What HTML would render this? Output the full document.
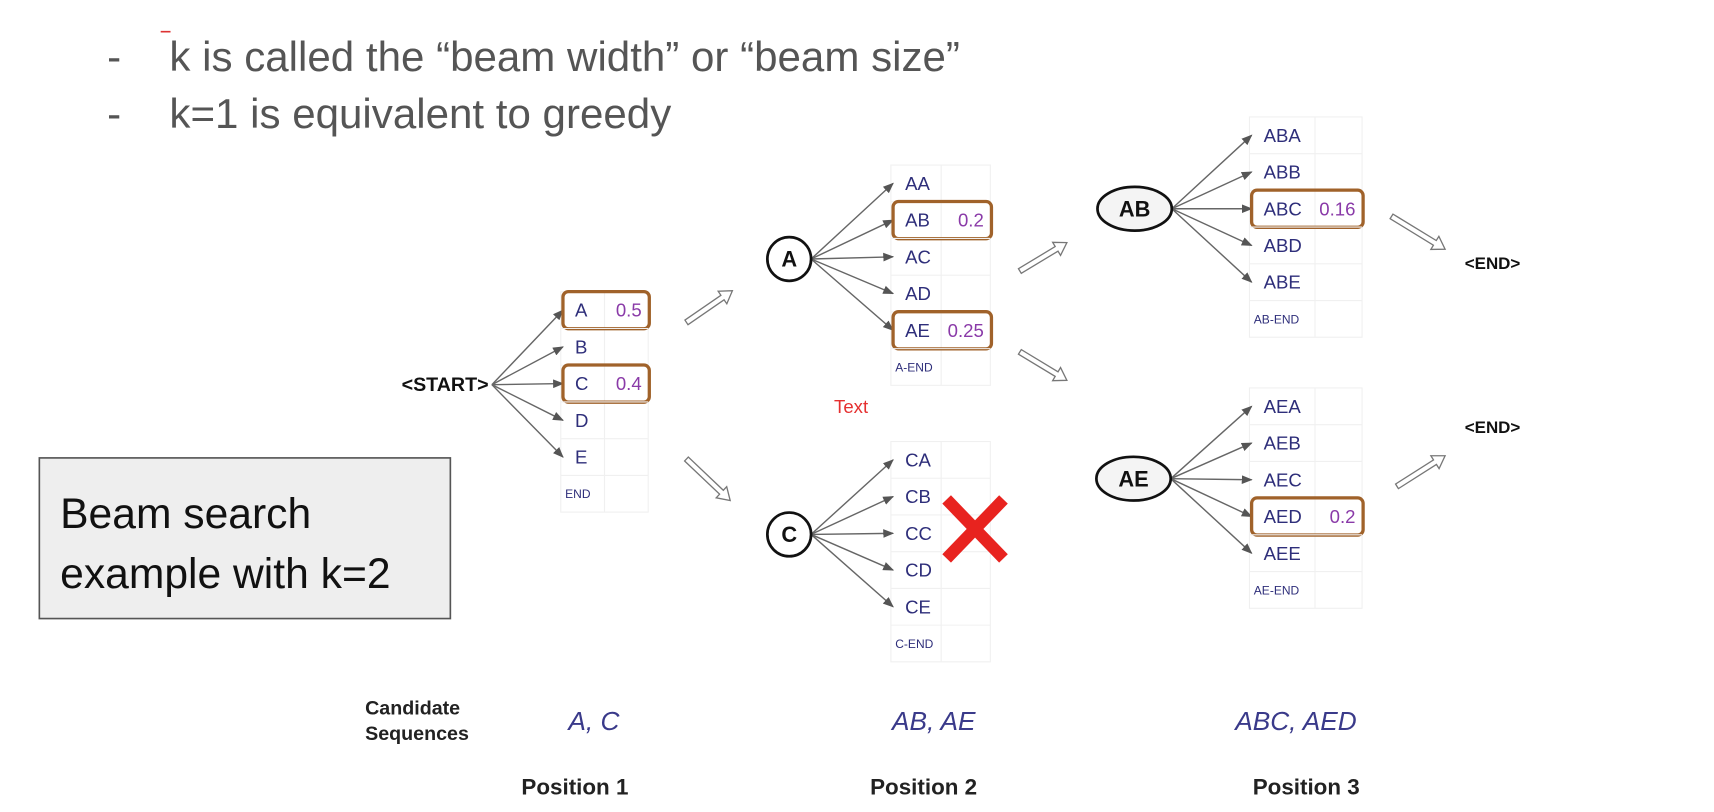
<!DOCTYPE html>
<html><head><meta charset="utf-8"><style>
html,body{margin:0;padding:0;background:#fff;width:1714px;height:812px;overflow:hidden}
svg{display:block;font-family:"Liberation Sans",Arial,sans-serif}
</style></head><body>
<svg id="s" width="1714" height="812" viewBox="0 0 1568 743" preserveAspectRatio="none">
<defs>
<marker id="ah" markerWidth="10" markerHeight="8" refX="9" refY="4" orient="auto" markerUnits="userSpaceOnUse"><path d="M0,0 L10,4 L0,8 z" fill="#555"/></marker>
</defs>
<g fill="#555" font-size="38.5">
<line x1="147" y1="29" x2="156" y2="29" stroke="#d33" stroke-width="1.5"/>
<text x="98" y="65">-</text>
<text x="155" y="65">k is called the “beam width” or “beam size”</text>
<text x="98" y="117">-</text>
<text x="155" y="117">k=1 is equivalent to greedy</text>
</g>
<g>
<rect x="36" y="419" width="376" height="147" fill="#eeeeee" stroke="#555" stroke-width="1.5"/>
<text x="55" y="483" font-size="39" fill="#111">Beam search</text>
<text x="55" y="538" font-size="39" fill="#111">example with k=2</text>
</g>
<g id="g"></g>
<text x="763" y="378" font-size="17" fill="#e53030">Text</text>
<g stroke="#e8231f" stroke-width="11" stroke-linecap="butt">
<line x1="866" y1="457" x2="918" y2="511"/><line x1="918" y1="457" x2="866" y2="511"/>
</g>
<g font-weight="bold" font-size="18" fill="#222">
<text x="334" y="654">Candidate</text><text x="334" y="677">Sequences</text>
<text x="477" y="727" font-size="20.5">Position 1</text>
<text x="796" y="727" font-size="20.5">Position 2</text>
<text x="1146" y="727" font-size="20.5">Position 3</text>
</g>
<g font-style="italic" font-size="24" fill="#3a3a8a">
<text x="520" y="668">A, C</text>
<text x="816" y="668">AB, AE</text>
<text x="1130" y="668">ABC, AED</text>
</g>
</svg>
<script>
var ns="http://www.w3.org/2000/svg",G=document.getElementById('g');
function el(t,a,p){var e=document.createElementNS(ns,t);for(var k in a)e.setAttribute(k,a[k]);(p||G).appendChild(e);return e;}
var tables=[
 {name:'pos1',src:'<START>',sx:450,sy:352,x:513,top:267,rows:['A','B','C','D','E','END'],vals:{0:'0.5',2:'0.4'},w:80,cw:40},
 {name:'pos2-a',src:'A',shape:'c',sx:722,sy:237,x:815,top:151,rows:['AA','AB','AC','AD','AE','A-END'],vals:{1:'0.2',4:'0.25'},w:91,cw:46},
 {name:'pos2-c',src:'C',shape:'c',sx:722,sy:489,x:815,top:404,rows:['CA','CB','CC','CD','CE','C-END'],vals:{},w:91,cw:46},
 {name:'pos3-ab',src:'AB',shape:'e',sx:1038,sy:191,x:1143,top:107,rows:['ABA','ABB','ABC','ABD','ABE','AB-END'],vals:{2:'0.16'},w:103,cw:60},
 {name:'pos3-ae',src:'AE',shape:'e',sx:1037,sy:438,x:1143,top:355,rows:['AEA','AEB','AEC','AED','AEE','AE-END'],vals:{3:'0.2'},w:103,cw:60}
];
var rh=33.6;
tables.forEach(function(t){
 var g=el('g',{});
 
 
 var h=rh*6;
 el('rect',{x:t.x,y:t.top,width:t.w,height:h,fill:'none',stroke:'#f0f0f0'},g);
 el('line',{x1:t.x+t.cw,y1:t.top,x2:t.x+t.cw,y2:t.top+h,stroke:'#f0f0f0'},g);
 t.rows.forEach(function(r,i){
  var cy=t.top+rh*i+rh/2;
  if(i>0)el('line',{x1:t.x,y1:t.top+rh*i,x2:t.x+t.w,y2:t.top+rh*i,stroke:'#f0f0f0'},g);
  var last=i==5;
  var tx=el('text',{x:t.x+(last?4:13),y:cy+(last?4:6),'font-size':last?11:17,fill:'#2e2e7a'},g);tx.textContent=r;
  
  
  if(!last){
   el('line',{x1:t.sx+(t.shape=='e'?34:t.shape=='c'?20:0),y1:t.sy,x2:t.x+2,y2:cy,stroke:'#666','stroke-width':1.3,'marker-end':'url(#ah)'},g);
  }
  if(t.vals[i]){
   el('rect',{x:t.x+2,y:cy-17,width:t.w-1,height:34,rx:5,fill:'none',stroke:'#a0622a','stroke-width':3},g);
   var v=el('text',{x:t.x+t.w-6,y:cy+6,'font-size':17,fill:'#8a3aa8','text-anchor':'end'},g);v.textContent=t.vals[i];
   
   
  }
 });
 var n;
 if(t.shape=='c'){el('circle',{cx:t.sx,cy:t.sy,r:20,fill:'#fff',stroke:'#111','stroke-width':2.5},g);}
 else if(t.shape=='e'){el('ellipse',{cx:t.sx,cy:t.sy,rx:34,ry:20,fill:'#f4f4f4',stroke:'#111','stroke-width':2.5},g);}
 if(t.shape){n=el('text',{x:t.sx,y:t.sy+7,'font-size':20,'font-weight':'bold','text-anchor':'middle',fill:'#111'},g);}
 else{n=el('text',{x:t.sx-3,y:t.sy+6,'font-size':18,'font-weight':'bold','text-anchor':'end',fill:'#111'},g);}
 n.textContent=t.src;
 
 
});
var hollow=[[628,295,670,266],[628,420,668,458],[933,248,976,222],[933,322,976,348],[1273,198,1322,228],[1278,445,1322,417]];
hollow.forEach(function(a,i){
 var dx=a[2]-a[0],dy=a[3]-a[1],L=Math.hypot(dx,dy),ux=dx/L,uy=dy/L,px=-uy,py=ux,w=2.5,hw=7,hl=11;
 var bx=a[2]-ux*hl,by=a[3]-uy*hl;
 var pts=[[a[0]+px*w,a[1]+py*w],[bx+px*w,by+py*w],[bx+px*hw,by+py*hw],[a[2],a[3]],[bx-px*hw,by-py*hw],[bx-px*w,by-py*w],[a[0]-px*w,a[1]-py*w]];
 var p=el('polygon',{points:pts.map(function(q){return q[0].toFixed(1)+','+q[1].toFixed(1)}).join(' '),fill:'#fff',stroke:'#777','stroke-width':1.2});
 
 
});
[[1340,246],[1340,396]].forEach(function(e){
 var t=el('text',{x:e[0],y:e[1],'font-size':15.5,'font-weight':'bold',fill:'#111'});t.textContent='<END>';
 
 
});
</script>
</body></html>
